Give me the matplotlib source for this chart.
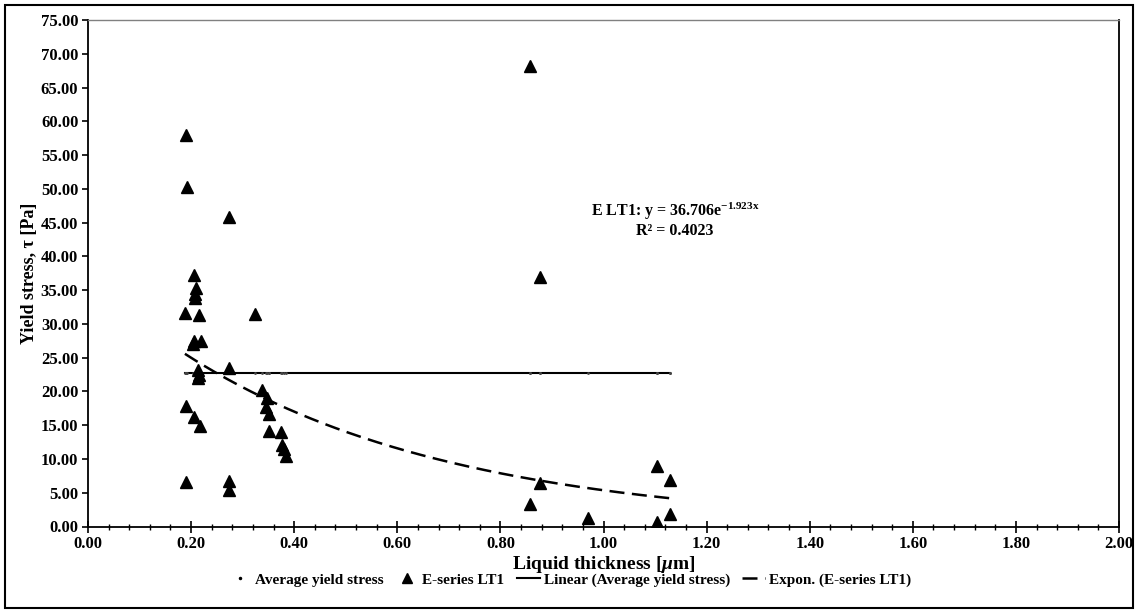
import numpy as np
import matplotlib
matplotlib.use('Agg')
import matplotlib.pyplot as plt
from matplotlib.lines import Line2D
from matplotlib.patches import Rectangle
from matplotlib.ticker import MultipleLocator, FormatStrFormatter

plt.rcParams['font.family'] = ['Liberation Serif', 'DejaVu Serif']
plt.rcParams['font.weight'] = 'bold'
plt.rcParams['mathtext.fontset'] = 'custom'
plt.rcParams['mathtext.rm'] = 'Liberation Serif:bold'
plt.rcParams['mathtext.bf'] = 'Liberation Serif:bold'
plt.rcParams['mathtext.it'] = 'Liberation Serif:italic:bold'

# E-series LT1 measurements: liquid thickness [um] vs yield stress [Pa]
thickness = [0.190, 0.192, 0.273, 0.206, 0.210, 0.208, 0.207, 0.188, 0.215, 0.323,
             0.206, 0.219, 0.204, 0.274, 0.214, 0.215, 0.214, 0.337, 0.348, 0.345,
             0.351, 0.190, 0.206, 0.217, 0.352, 0.374, 0.377, 0.380, 0.384, 0.190,
             0.273, 0.273, 0.857, 0.877, 0.857, 0.877, 0.970, 1.104, 1.129, 1.129,
             1.104]
stress = [57.9, 50.3, 45.8, 37.3, 35.3, 34.5, 33.8, 31.6, 31.3, 31.4,
          27.5, 27.4, 27.0, 23.5, 23.2, 22.4, 22.0, 20.2, 19.0, 17.7,
          16.6, 17.9, 16.2, 14.9, 14.1, 14.0, 12.1, 11.5, 10.5, 6.6,
          6.8, 5.4, 68.2, 36.9, 3.4, 6.5, 1.3, 8.9, 6.9, 1.85,
          0.6]
avg_stress = [22.8] * len(thickness)

# exponential fit y = a*exp(b*x)
fit_a = 36.706
fit_b = -1.923
fit_r2 = 0.4023

x_ticks = [0.0, 0.2, 0.4, 0.6, 0.8, 1.0, 1.2, 1.4, 1.6, 1.8, 2.0]
y_ticks = list(range(0, 80, 5))

fig = plt.figure(figsize=(11.39, 6.15), dpi=100)
ax = fig.add_axes([88 / 1139, (615 - 526.5) / 615, (1119 - 88) / 1139, (526.5 - 20) / 615])

# chart border
fig.patches.append(Rectangle((5 / 1139, 7 / 615), 1128 / 1139, 603 / 615,
                             transform=fig.transFigure, fill=False,
                             edgecolor='black', linewidth=1.5))

t = np.array(thickness)
xs = np.linspace(t.min(), t.max(), 200)

# linear trend of the average series
p = np.polyfit(thickness, avg_stress, 1)
ax.plot(xs, np.polyval(p, xs), color='black', lw=1.5, zorder=2)
ax.plot(thickness, avg_stress, linestyle='none', marker='.', markersize=2,
        color='#444444', zorder=3)

# exponential trend of E-series
ax.plot(xs, fit_a * np.exp(fit_b * xs), color='black', lw=1.8,
        dashes=(6, 3), zorder=2)

ax.plot(thickness, stress, linestyle='none', marker='^', markersize=8.5,
        color='black', zorder=4)

ax.text(1.139, 46.6, r'E LT1: y = 36.706e$^{\mathrm{%.3fx}}$' % fit_b,
        ha='center', va='center', fontsize=11.5, fontweight='bold')
ax.text(1.139, 43.8, 'R² = %.4f' % fit_r2, ha='center', va='center',
        fontsize=11.5, fontweight='bold')

ax.set_xlim(0, 2)
ax.set_ylim(0, 75)
ax.set_xticks(x_ticks)
ax.set_yticks(y_ticks)
ax.xaxis.set_minor_locator(MultipleLocator(0.04))
ax.xaxis.set_major_formatter(FormatStrFormatter('%.2f'))
ax.yaxis.set_major_formatter(FormatStrFormatter('%.2f'))
ax.tick_params(axis='x', which='major', direction='inout', length=8, width=1.2,
               labelsize=12, pad=3)
ax.tick_params(axis='x', which='minor', direction='inout', length=5, width=1)
ax.tick_params(axis='y', which='major', direction='out', length=4, width=1.2,
               labelsize=12, pad=3)
for lab in ax.get_xticklabels() + ax.get_yticklabels():
    lab.set_fontweight('bold')

for side in ['left', 'bottom', 'right']:
    ax.spines[side].set_linewidth(1.3)
    ax.spines[side].set_color('black')
ax.spines['top'].set_color('#808080')
ax.spines['top'].set_linewidth(1.0)

ax.set_xlabel(r'Liquid thickness [$\mu$m]', fontsize=14, fontweight='bold', labelpad=1)
ax.set_ylabel('Yield stress, τ [Pa]', fontsize=13, fontweight='bold', labelpad=2)

handles = [
    Line2D([], [], linestyle='none', marker='.', markersize=3, color='black'),
    Line2D([], [], linestyle='none', marker='^', markersize=7, color='black'),
    Line2D([], [], color='black', lw=1.5),
    Line2D([], [], color='black', lw=1.8, dashes=(6, 3)),
]
labels = ['Average yield stress', 'E-series LT1', 'Linear (Average yield stress)',
          'Expon. (E-series LT1)']
fig.legend(handles, labels, loc='center', bbox_to_anchor=(0.5, (615 - 580) / 615),
           ncol=4, frameon=False, prop={'weight': 'bold', 'size': 11},
           handlelength=1.5, handletextpad=0.25, columnspacing=0.8)

fig.savefig('out.png', dpi=100)
